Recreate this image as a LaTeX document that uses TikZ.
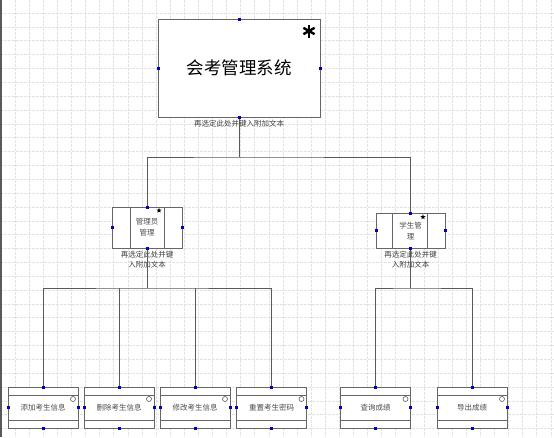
\documentclass[tikz,border=0pt]{standalone}
\usepackage{fontspec}
\newfontfamily\cjk{Noto Sans CJK SC}
\usetikzlibrary{positioning,shapes.geometric}
\tikzset{
	box/.style={draw=black!60, fill=white, line width=0.8pt, rectangle, inner sep=0pt, outer sep=0pt},
	leaf/.style={box, minimum width=70pt, minimum height=41pt, font=\cjk\fontsize{7.5}{9}\selectfont, text=black!70},
	panel line/.style={draw=black!60, line width=0.8pt},
	conn/.style={draw=black!65, line width=0.9pt},
	handle/.style={fill=blue!75!black, rectangle, inner sep=0pt, outer sep=0pt, minimum size=3pt},
	note/.style={font=\cjk\fontsize{7.5}{10}\selectfont, text=black!75, align=center, inner sep=0pt},
	gridline/.style={black!11, line width=0.5pt, dash pattern=on 3pt off 1pt},
	corner star/.style={star, star points=5, star point ratio=2.4, fill=black, inner sep=0pt, minimum size=5.5pt},
	knob/.style={draw=black!65, line width=0.6pt, fill=white}
}

\begin{document}
\begin{tikzpicture}[x=1pt, y=-1pt]
			%%%%% START %%%%%
			\useasboundingbox (0,0) rectangle (554,437);
			\fill[white] (0,0) rectangle (554,437);
			
			% page grid
			\foreach \i in {0,...,38}
				\draw[gridline] ({15+14.1*\i},0) -- ++(0,437);
			\foreach \j in {0,...,30}
				\draw[gridline] (0,{13+13.85*\j}) -- ++(554,0);
			\draw[black!65, line width=2pt] (1,0) -- (1,437);
			
			% top level
			\node[box, minimum width=162pt, minimum height=98pt, font=\cjk\fontsize{17.5}{20}\selectfont] (sys) at (239,68) {会考管理系统};
			\node[note, below=3pt of sys] (sys note) {再选定此处并键入附加文本};
			\draw[line width=2.4pt] (309,24.5) -- (309,37.5);
			\draw[line width=2.4pt] (303.4,27.8) -- (314.6,34.2);
			\draw[line width=2.4pt] (303.4,34.2) -- (314.6,27.8);
			
			% second level
			\node[box, minimum width=70pt, minimum height=41pt, align=center, font=\cjk\fontsize{7.5}{11}\selectfont, text=black!70] (mgr) at (147,227.5) {管理员\\管理};
			\draw[panel line] ([xshift=18pt]mgr.north west) -- ([xshift=18pt]mgr.south west);
			\draw[panel line] ([xshift=-18pt]mgr.north east) -- ([xshift=-18pt]mgr.south east);
			\node[corner star] (mgr star) at ([xshift=12pt, yshift=-3.5pt]mgr.north) {};
			\node[note, below=3pt of mgr] (mgr note) {再选定此处并键\\入附加文本};
			
			\node[box, minimum width=69pt, minimum height=35pt, align=center, font=\cjk\fontsize{7.5}{11}\selectfont, text=black!70] (stu) at (410.5,230.5) {学生管\\理};
			\draw[panel line] ([xshift=16.5pt]stu.north west) -- ([xshift=16.5pt]stu.south west);
			\draw[panel line] ([xshift=-18pt]stu.north east) -- ([xshift=-18pt]stu.south east);
			\node[corner star] (stu star) at ([xshift=12.5pt, yshift=-4pt]stu.north) {};
			\node[note, below=3pt of stu] (stu note) {再选定此处并键\\入附加文本};
			
			% leaves
			\node[leaf] (b1) at (43,407.5) {添加考生信息};
			\node[leaf] (b2) at (119,407.5) {删除考生信息};
			\node[leaf] (b3) at (195,407.5) {修改考生信息};
			\node[leaf] (b4) at (271.5,407.5) {重置考生密码};
			\node[leaf] (b5) at (375.5,407.5) {查询成绩};
			\node[leaf] (b6) at (472,407.5) {导出成绩};
			\foreach \b in {b1,b2,b3,b4,b5,b6} {
				\draw[panel line] ([yshift=-8pt]\b.north west) -- ([yshift=-8pt]\b.north east);
				\draw[panel line] ([yshift=8pt]\b.south west) -- ([yshift=8pt]\b.south east);
				\draw[knob] (\b.north east) ++(-5,12) circle (2.5pt);
			}
			
			% connectors
			\coordinate (bus top) at (239,157);
			\coordinate (bus mgr) at (147,288);
			\coordinate (bus stu) at (410.5,288);
			\draw[conn] (sys.south) -- (sys.south |- bus top);
			\draw[conn] (mgr.north) |- (bus top) -| (stu.north);
			\draw[conn] (mgr.south) -- (bus mgr);
			\draw[conn] (b1.north) |- (bus mgr) -| (b4.north);
			\draw[conn] (b2.north) -- (b2.north |- bus mgr);
			\draw[conn] (b3.north) -- (b3.north |- bus mgr);
			\draw[conn] (stu.south) -- (bus stu);
			\draw[conn] (b5.north) |- (bus stu) -| (b6.north);
			
			% handles
			\foreach \n in {sys,mgr,stu,b1,b2,b3,b4,b5,b6}
				\foreach \a in {north,south,east,west}
					\node[handle] (h-\n-\a) at (\n.\a) {};
			
			%%%%% END %%%%%
\end{tikzpicture}
\end{document}
